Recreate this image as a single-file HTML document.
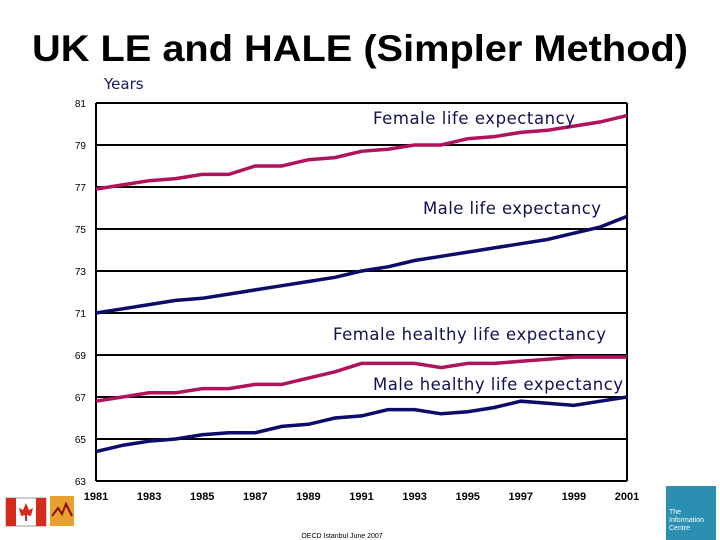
<!DOCTYPE html>
<html><head><meta charset="utf-8"><style>
body{margin:0;background:#fff;}
svg{display:block;font-family:"Liberation Sans",sans-serif;}
</style></head><body>
<svg id="c" width="720" height="540" xmlns="http://www.w3.org/2000/svg">
<text x="360" y="61" text-anchor="middle" font-size="37" font-weight="bold" fill="#000" textLength="656" lengthAdjust="spacingAndGlyphs">UK LE and HALE (Simpler Method)</text>
<text x="104" y="89" font-size="15" fill="#1a1a5e" font-family="DejaVu Sans,sans-serif">Years</text>
<g id="grid"></g><g id="lines"></g><g id="ticks"></g>
<text x="373" y="124" font-size="16.5" fill="#111150" font-family="DejaVu Sans,sans-serif" textLength="202">Female life expectancy</text>
<text x="423" y="214" font-size="16.5" fill="#111150" font-family="DejaVu Sans,sans-serif" textLength="178">Male life expectancy</text>
<text x="333" y="340" font-size="16.5" fill="#111150" font-family="DejaVu Sans,sans-serif" textLength="273">Female healthy life expectancy</text>
<text x="373" y="390" font-size="16.5" fill="#111150" font-family="DejaVu Sans,sans-serif" textLength="250">Male healthy life expectancy</text>
<text x="342" y="538" text-anchor="middle" font-size="7" fill="#000">OECD Istanbul June 2007</text>
<g>
<rect x="6" y="498" width="40" height="28" fill="#fff" stroke="#999"/>
<rect x="6" y="498" width="10" height="28" fill="#d52b1e"/><rect x="36" y="498" width="10" height="28" fill="#d52b1e"/>
<path d="M26 503 L29 510 L33 508 L31 516 L27 515 L27 521 L25 521 L25 515 L21 516 L19 508 L23 510 Z" fill="#d52b1e"/>
</g>
<g>
<rect x="50" y="496" width="24" height="30" fill="#e8a030"/>
<path d="M52 516 L58 508 L62 514 L66 504 L72 516" stroke="#8a1010" stroke-width="2" fill="none"/>
</g>
<g>
<rect x="666" y="486" width="50" height="54" fill="#2a8fb0"/>
<text x="669" y="514" font-size="7" fill="#fff">The</text>
<text x="669" y="522" font-size="7" fill="#fff">Information</text>
<text x="669" y="530" font-size="7" fill="#fff">Centre</text>
</g>
</svg>
<script>
const years=[1981,1982,1983,1984,1985,1986,1987,1988,1989,1990,1991,1992,1993,1994,1995,1996,1997,1998,1999,2000,2001];
const femaleLE=[76.9,77.1,77.3,77.4,77.6,77.6,78.0,78.0,78.3,78.4,78.7,78.8,79.0,79.0,79.3,79.4,79.6,79.7,79.9,80.1,80.4];
const maleLE=[71.0,71.2,71.4,71.6,71.7,71.9,72.1,72.3,72.5,72.7,73.0,73.2,73.5,73.7,73.9,74.1,74.3,74.5,74.8,75.1,75.6];
const femaleHLE=[66.8,67.0,67.2,67.2,67.4,67.4,67.6,67.6,67.9,68.2,68.6,68.6,68.6,68.4,68.6,68.6,68.7,68.8,68.9,68.9,68.9];
const maleHLE=[64.4,64.7,64.9,65.0,65.2,65.3,65.3,65.6,65.7,66.0,66.1,66.4,66.4,66.2,66.3,66.5,66.8,66.7,66.6,66.8,67.0];
const yTicks=[63,65,67,69,71,73,75,77,79,81];
const xTicks=[1981,1983,1985,1987,1989,1991,1993,1995,1997,1999,2001];
const NS='http://www.w3.org/2000/svg';
const X=v=>96+(v-1981)*(627-96)/20;
const Y=v=>481-(v-63)*(481-103)/18;
function mk(t,p,a){const e=document.createElementNS(NS,t);for(const k in a)e.setAttribute(k,a[k]);p.appendChild(e);return e;}
const g=document.getElementById('grid'),l=document.getElementById('lines'),tk=document.getElementById('ticks');
yTicks.forEach(v=>{
 const ln=mk('line',g,{x1:96,x2:627,y1:Y(v),y2:Y(v),stroke:'#000',"stroke-width":2});
 
 
 const t=mk('text',tk,{x:86,y:Y(v)+4,"text-anchor":"end","font-size":10,fill:'#000'});
 t.textContent=v;
 
 
});
const ax=mk('line',g,{x1:96,x2:96,y1:103,y2:481,stroke:'#000',"stroke-width":2});


const rb=mk('line',g,{x1:627,x2:627,y1:103,y2:481,stroke:'#000',"stroke-width":2});


xTicks.forEach(v=>{
 const t=mk('text',tk,{x:X(v),y:500,"text-anchor":"middle","font-size":11,"font-weight":"bold",fill:'#000'});
 t.textContent=v;
 
 
});
[[femaleLE,'#b0135c','female-le-line'],[maleLE,'#0c0c6a','male-le-line'],[femaleHLE,'#b0135c','female-hle-line'],[maleHLE,'#0c0c6a','male-hle-line']].forEach(([d,c,n])=>{
 const p=mk('polyline',l,{points:d.map((v,i)=>X(years[i])+','+Y(v)).join(' '),fill:'none',stroke:c,"stroke-width":3.5});
 
 
});
</script>
</body></html>
